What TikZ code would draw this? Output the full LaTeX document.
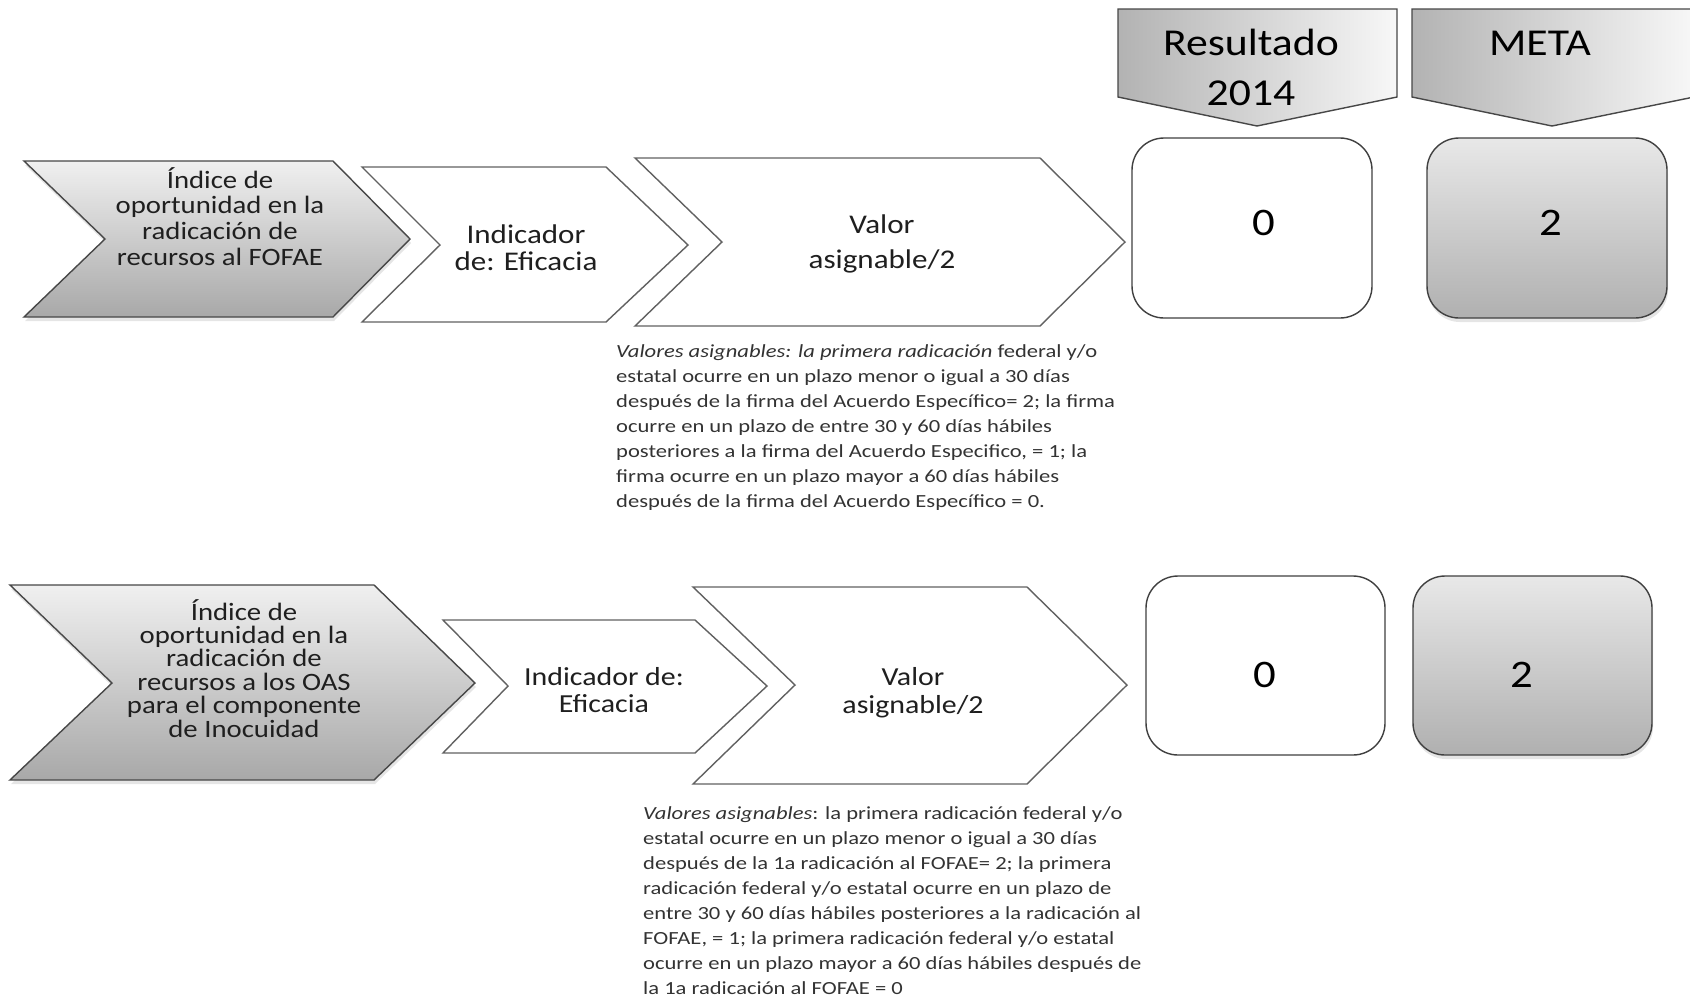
\documentclass[tikz,border=0pt]{standalone}
\usepackage{fontspec}
\setmainfont{Carlito}[FakeStretch=1.15]
\newfontfamily\notefont{Carlito}[FakeStretch=1.22]
\usetikzlibrary{shadows}
\newcommand\fsz[2]{\fontsize{#1}{#2}\selectfont\lineskiplimit=-100pt\lineskip=0pt\relax}
\tikzset{
  outl/.style={draw=black!72, line width=1.4pt, line join=miter},
  grayshape/.style={outl, top color=black!6, bottom color=black!34,
    drop shadow={shadow xshift=1pt, shadow yshift=-4pt, opacity=0.2}},
  whiteshape/.style={draw=black!62, line width=1.4pt, line join=miter, fill=white},
  header/.style={outl, left color=black!30, right color=black!3},
  valbox/.style={draw=black!75, line width=1.4pt, rounded corners=32pt},
  graybox/.style={valbox, top color=black!9, bottom color=black!31,
    drop shadow={shadow xshift=1pt, shadow yshift=-4pt, opacity=0.2}},
  txt/.style={inner sep=0pt, anchor=base, align=center, text=black!88},
  note/.style={inner sep=0pt, anchor=base west, align=left, text=black!80},
}
\begin{document}
\begin{tikzpicture}[x=1pt,y=-1pt]
\useasboundingbox (0,0) rectangle (1690,997);
\fill[white] (0,0) rectangle (1690,997);

% ---------- headers ----------
\path[header] (1118,9) -- (1397,9) -- (1397,97) -- (1257,126) -- (1118,97) -- cycle;
\path[header] (1412,9) -- (1694,9) -- (1694,97) -- (1552,126) -- (1412,97) -- cycle;
\node[txt, font=\fsz{38}{47}, text=black] (h1a) at (1251,55) {Resultado};
\node[txt, font=\fsz{38}{47}, text=black] (h1b) at (1251,105) {2014};
\node[txt, font=\fsz{38}{47}, text=black] (h2) at (1540,55) {META};

% ---------- top row ----------
\path[grayshape] (24,161) -- (333,161) -- (410,239) -- (333,317) -- (24,317) -- (105,239) -- cycle;
\path[whiteshape] (362,167) -- (606,167) -- (688,245) -- (606,322) -- (362,322) -- (440,245) -- cycle;
\path[whiteshape] (635,158) -- (1040,158) -- (1125,242) -- (1040,326) -- (635,326) -- (722,242) -- cycle;
\path[valbox, fill=white] (1132,138) rectangle (1372,318);
\path[graybox] (1427,138) rectangle (1667,318);

% multi-line nodes: base anchor = baseline of last line
\node[txt, font=\fsz{25}{25.6}] (t1) at (220,265)
  {Índice de\\oportunidad en la\\radicación de\\recursos al FOFAE};
\node[txt, font=\fsz{27}{27}] (t2) at (526,270)
  {Indicador\\de: Eficacia};
\node[txt, font=\fsz{27}{35}] (t3) at (882,268)
  {Valor\\asignable/2};
\node[txt, font=\fsz{39}{39}, text=black] (v1) at (1264,235) {0};
\node[txt, font=\fsz{39}{39}, text=black] (m1) at (1551,235) {2};

\node[note, font=\notefont\fsz{18.5}{25}] (n1) at (616,507) {%
\textit{Valores asignables: la primera radicación} federal y/o\\
estatal ocurre en un plazo menor o igual a 30 días\\
después de la firma del Acuerdo Específico= 2; la firma\\
ocurre en un plazo de entre 30 y 60 días hábiles\\
posteriores a la firma del Acuerdo Especifico, = 1; la\\
firma ocurre en un plazo mayor a 60 días hábiles\\
después de la firma del Acuerdo Específico = 0.};

% ---------- bottom row ----------
\path[grayshape] (10,585) -- (374,585) -- (475,683) -- (374,780) -- (10,780) -- (112,683) -- cycle;
\path[whiteshape] (443,620) -- (695,620) -- (767,686) -- (695,753) -- (443,753) -- (508,686) -- cycle;
\path[whiteshape] (693,587) -- (1027,587) -- (1127,685) -- (1027,784) -- (693,784) -- (795,685) -- cycle;
\path[valbox, fill=white] (1146,576) rectangle (1385,755);
\path[graybox] (1413,576) rectangle (1652,755);

\node[txt, font=\fsz{25}{23.4}] (b1) at (244,737)
  {Índice de\\oportunidad en la\\radicación de\\recursos a los OAS\\para el componente\\de Inocuidad};
\node[txt, font=\fsz{26}{27}] (b2) at (604,712)
  {Indicador de:\\Eficacia};
\node[txt, font=\fsz{26}{28}] (b3) at (913,713)
  {Valor\\asignable/2};
\node[txt, font=\fsz{39}{39}, text=black] (v2) at (1265,687) {0};
\node[txt, font=\fsz{39}{39}, text=black] (m2) at (1522,687) {2};

\node[note, font=\notefont\fsz{18.5}{24.9}] (n2) at (643,994) {%
\textit{Valores asignables}: la primera radicación federal y/o\\
estatal ocurre en un plazo menor o igual a 30 días\\
después de la 1a radicación al FOFAE= 2; la primera\\
radicación federal y/o estatal ocurre en un plazo de\\
entre 30 y 60 días hábiles posteriores a la radicación al\\
FOFAE, = 1; la primera radicación federal y/o estatal\\
ocurre en un plazo mayor a 60 días hábiles después de\\
la 1a radicación al FOFAE = 0};
\end{tikzpicture}
\end{document}
